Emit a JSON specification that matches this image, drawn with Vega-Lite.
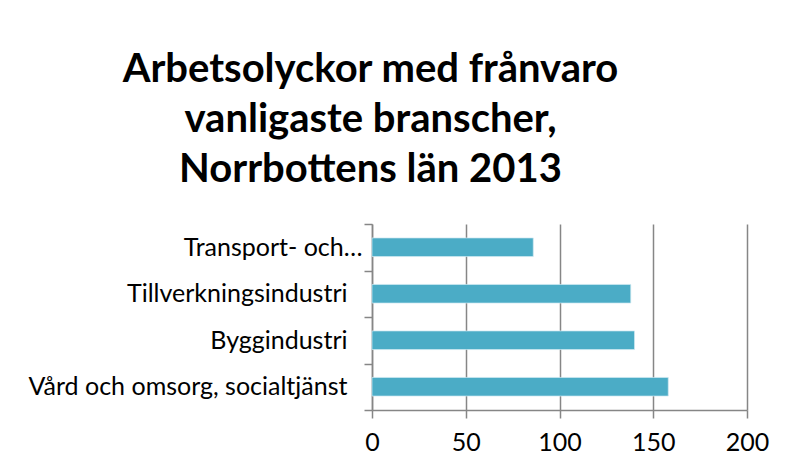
{
  "$schema": "https://vega.github.io/schema/vega-lite/v6.json",
  "width": 375,
  "height": 186,
  "autosize": "none",
  "padding": {"left": 372, "top": 224, "right": 42, "bottom": 58},
  "background": "white",
  "title": {
    "text": ["Arbetsolyckor med frånvaro", "vanligaste branscher,", "Norrbottens län 2013"],
    "font": "Lato",
    "fontSize": 40,
    "fontWeight": "bold",
    "lineHeight": 50,
    "anchor": "middle",
    "dx": -189,
    "offset": 22,
    "color": "black"
  },
  "data": {
    "values": [
      {"bransch": "Transport- och…", "antal": 86},
      {"bransch": "Tillverkningsindustri", "antal": 138},
      {"bransch": "Byggindustri", "antal": 140},
      {"bransch": "Vård och omsorg, socialtjänst", "antal": 158}
    ]
  },
  "mark": {"type": "bar", "color": "#4BACC6", "stroke": "#D0EAF2", "strokeWidth": 0.7, "height": {"band": 0.4}},
  "encoding": {
    "y": {
      "field": "bransch",
      "type": "nominal",
      "sort": ["Transport- och…", "Tillverkningsindustri", "Byggindustri", "Vård och omsorg, socialtjänst"],
      "scale": {"paddingInner": 0, "paddingOuter": 0},
      "axis": {
        "title": null,
        "domainColor": "#868686",
        "domainWidth": 1.5,
        "tickColor": "#868686",
        "tickWidth": 1.5,
        "tickSize": 8,
        "tickBand": "extent",
        "labelFont": "Lato",
        "labelFontSize": 25,
        "labelColor": "black",
        "labelPadding": {"condition": {"test": "datum.value === 'Transport- och…'", "value": 2}, "value": 17},
        "labelLimit": 400
      }
    },
    "x": {
      "field": "antal",
      "type": "quantitative",
      "scale": {"domain": [0, 200], "nice": false},
      "axis": {
        "title": null,
        "values": [0, 50, 100, 150, 200],
        "domainColor": "#868686",
        "domainWidth": 1.5,
        "tickColor": "#868686",
        "tickWidth": 1.5,
        "tickSize": 8,
        "gridColor": "#868686",
        "gridWidth": 1.5,
        "labelFont": "Lato",
        "labelFontSize": 25,
        "labelColor": "black",
        "labelPadding": 12,
        "labelFlush": false
      }
    }
  },
  "config": {"view": {"stroke": null}}
}
